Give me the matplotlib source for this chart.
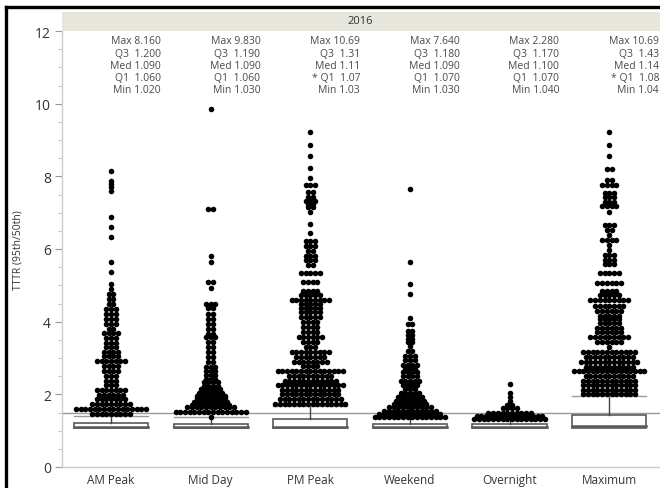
import numpy as np
import matplotlib.pyplot as plt
from matplotlib.patches import Rectangle
from matplotlib.lines import Line2D

plt.rcParams['font.family'] = ['Open Sans', 'DejaVu Sans']

categories = ['AM Peak', 'Mid Day', 'PM Peak', 'Weekend', 'Overnight', 'Maximum']

# box plot summary
q1 = [1.06, 1.06, 1.07, 1.07, 1.07, 1.08]
med = [1.09, 1.09, 1.11, 1.09, 1.10, 1.14]
q3 = [1.20, 1.19, 1.31, 1.18, 1.17, 1.43]
whisk_hi = [1.41, 1.37, 1.67, 1.345, 1.32, 1.955]
ref_level = 1.5

max_txt = ['8.160', '9.830', '10.69', '7.640', '2.280', '10.69']
q3_txt = ['1.200', '1.190', '1.31', '1.180', '1.170', '1.43']
med_txt = ['1.090', '1.090', '1.11', '1.090', '1.100', '1.14']
q1_txt = ['1.060', '1.060', '1.07', '1.070', '1.070', '1.08']
min_txt = ['1.020', '1.030', '1.03', '1.030', '1.040', '1.04']
q1_flag = [False, False, True, False, False, True]

# stacked outlier dots: row value and number of dots in the row
am_vals = [8.16, 7.88, 7.80, 7.72, 7.61, 6.87, 6.61, 6.32, 5.63, 5.38, 5.05, 4.90, 4.76, 4.62,
           4.49, 4.35, 4.21, 4.07, 3.94, 3.80, 3.68, 3.54, 3.41, 3.29, 3.16, 3.05, 2.91, 2.79,
           2.65, 2.50, 2.38, 2.26, 2.13, 1.98, 1.87, 1.73, 1.61, 1.46]
am_counts = [1, 1, 1, 1, 1, 1, 1, 1, 1, 1, 1, 1, 2, 2,
             2, 3, 3, 3, 3, 2, 4, 3, 3, 3, 4, 4, 7, 4,
             4, 3, 3, 3, 7, 6, 7, 9, 16, 9]

md_vals = [9.85, 7.10, 5.80, 5.65, 5.08, 4.92, 4.50, 4.37, 4.21, 4.07, 3.94, 3.80, 3.66, 3.58,
           3.44, 3.30, 3.16, 3.03, 2.89, 2.75, 2.65, 2.53, 2.42, 2.33, 2.24, 2.15, 2.05, 1.96,
           1.89, 1.80, 1.72, 1.64, 1.52, 1.38]
md_counts = [1, 2, 1, 1, 2, 1, 3, 2, 2, 2, 2, 2, 2, 3,
             2, 2, 2, 2, 2, 3, 3, 3, 3, 4, 4, 5, 6, 7,
             7, 8, 9, 11, 16, 1]

pm_vals = [9.23, 8.86, 8.55, 8.22, 7.95, 7.77, 7.56, 7.42, 7.33, 7.24, 7.15, 7.01, 6.69, 6.44,
           6.23, 6.09, 5.95, 5.82, 5.71, 5.57, 5.33, 5.08, 4.85, 4.73, 4.60, 4.49, 4.37, 4.26,
           4.12, 3.98, 3.84, 3.71, 3.57, 3.43, 3.31, 3.16, 3.04, 2.90, 2.79, 2.63, 2.51, 2.38,
           2.26, 2.13, 2.01, 1.87, 1.73]
pm_counts = [1, 1, 1, 1, 1, 3, 2, 2, 3, 2, 2, 1, 1, 1,
             3, 3, 2, 3, 3, 2, 5, 4, 4, 5, 9, 5, 5, 5,
             5, 4, 4, 4, 6, 4, 3, 9, 7, 8, 4, 15, 10, 12,
             15, 13, 13, 14, 16]

wk_vals = [7.65, 5.65, 5.05, 4.75, 4.10, 3.94, 3.75, 3.63, 3.52, 3.43, 3.32, 3.20, 3.06, 2.95,
           2.82, 2.70, 2.61, 2.50, 2.38, 2.26, 2.15, 2.03, 1.92, 1.83, 1.73, 1.64, 1.55, 1.46,
           1.37]
wk_counts = [1, 1, 1, 1, 1, 2, 2, 2, 2, 2, 1, 2, 3, 3,
             4, 3, 4, 4, 5, 4, 3, 5, 6, 7, 8, 10, 12, 14,
             16]

on_vals = [2.28, 2.03, 1.92, 1.83, 1.71, 1.62, 1.50, 1.41, 1.33]
on_counts = [1, 1, 1, 1, 2, 4, 10, 15, 16]

mx_vals = [9.23, 8.86, 8.55, 8.20, 7.90, 7.77, 7.54, 7.42, 7.29, 7.17, 7.03, 6.66, 6.52, 6.39,
           6.26, 6.11, 5.97, 5.84, 5.71, 5.58, 5.33, 5.06, 4.85, 4.73, 4.60, 4.44, 4.30, 4.16,
           4.07, 3.95, 3.83, 3.71, 3.57, 3.45, 3.31, 3.16, 3.04, 2.90, 2.76, 2.63, 2.51, 2.38,
           2.26, 2.13, 2.01]
mx_counts = [1, 1, 1, 2, 2, 4, 3, 3, 3, 4, 1, 3, 2, 1,
             4, 1, 1, 3, 3, 3, 5, 6, 4, 5, 9, 7, 6, 5,
             5, 5, 6, 6, 9, 6, 1, 12, 11, 13, 11, 16, 11, 12,
             12, 12, 12]

dot_vals = [am_vals, md_vals, pm_vals, wk_vals, on_vals, mx_vals]
dot_counts = [am_counts, md_counts, pm_counts, wk_counts, on_counts, mx_counts]

fig = plt.figure(figsize=(6.6, 4.89), dpi=100)
ax = fig.add_axes([62 / 660, 21 / 489, 1 - 62 / 660, 436 / 489])

half = 0.372
step = 0.047
box_col = '#5a5a5a'
for i in range(len(categories)):
    # box and whisker
    ax.add_patch(Rectangle((i - half, q1[i]), 2 * half, q3[i] - q1[i],
                           facecolor='white', edgecolor=box_col, lw=1.2, zorder=2))
    ax.plot([i - half, i + half], [med[i], med[i]], color=box_col, lw=1.8, zorder=3)
    ax.plot([i, i], [q3[i], whisk_hi[i]], color='#444444', lw=1.0, zorder=2)
    ax.plot([i - half, i + half], [whisk_hi[i], whisk_hi[i]], color='#999999', lw=1.0, zorder=2)
    # dots
    xs, ys = [], []
    for v, n in zip(dot_vals[i], dot_counts[i]):
        for k in range(n):
            xs.append(i + (k - (n - 1) / 2) * step)
            ys.append(v)
    ax.scatter(xs, ys, s=16, color='black', lw=0, zorder=4)

    # stats text
    lines = ['Max ' + max_txt[i], 'Q3  ' + q3_txt[i], 'Med ' + med_txt[i],
             ('* ' if q1_flag[i] else '') + 'Q1  ' + q1_txt[i], 'Min ' + min_txt[i]]
    for j, t in enumerate(lines):
        ax.text(i + 0.5, 11.73 - j * 0.338, t, ha='right', va='center',
                fontsize=7.5, color='#4a4a4a', zorder=5)

ax.axhline(ref_level, color='#999999', lw=1.0, zorder=1)

ax.set_xlim(-0.492, 5.51)
ax.set_ylim(0, 12)
ax.set_xticks(range(len(categories)))
ax.set_xticklabels(categories, fontsize=8.5, color='#333333')
ax.tick_params(axis='x', length=0, pad=4)
ax.set_yticks(np.arange(0, 13, 2))
ax.set_yticks(np.arange(0, 12.5, 0.5), minor=True)
ax.tick_params(axis='y', which='major', length=5, color='#999999', labelsize=10,
               labelcolor='#333333', pad=3)
ax.tick_params(axis='y', which='minor', length=3, color='#bbbbbb')
ax.set_ylabel('TTTR (95th/50th)', fontsize=7.5, color='#333333', labelpad=8)
for s in ['top', 'right']:
    ax.spines[s].set_visible(False)
for s in ['left', 'bottom']:
    ax.spines[s].set_color('#cccccc')
    ax.spines[s].set_linewidth(1.0)

# header band
fig.add_artist(Rectangle((62 / 660, 457 / 489), 1 - 62 / 660, 19 / 489,
                         transform=fig.transFigure, facecolor='#e6e6dd', edgecolor='none'))
fig.text(360 / 660, 467 / 489, '2016', ha='center', va='center', fontsize=8, color='#333333')

# screenshot frame (top and left)
fig.add_artist(Line2D([6.5 / 660, 1], [481.5 / 489, 481.5 / 489], color='black', lw=2.4,
                      transform=fig.transFigure))
fig.add_artist(Line2D([6.5 / 660, 6.5 / 660], [0, 481.5 / 489], color='black', lw=2.4,
                      transform=fig.transFigure))

fig.savefig('out.png', dpi=100)
